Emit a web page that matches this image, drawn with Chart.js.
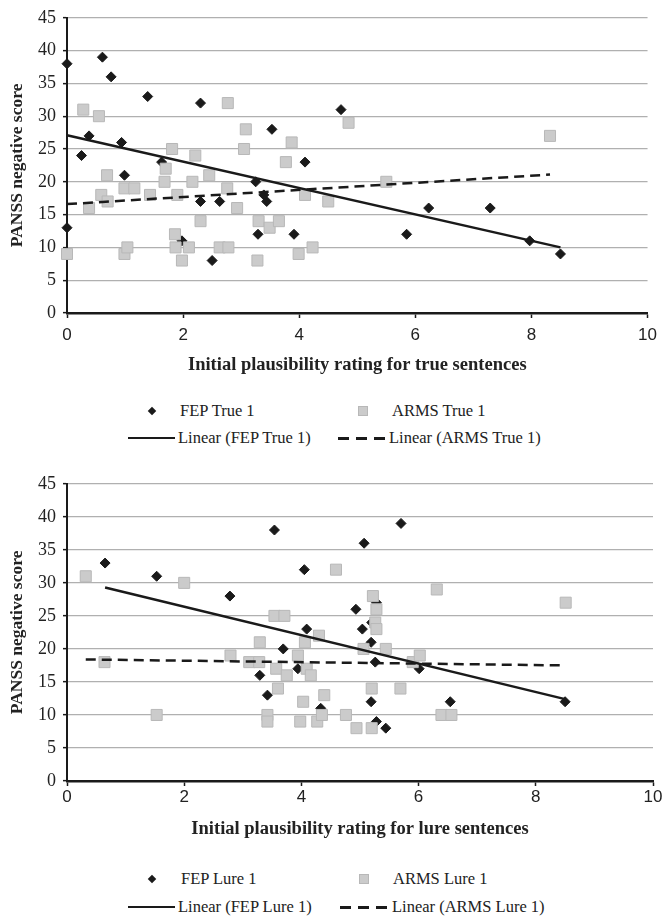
<!DOCTYPE html>
<html>
<head>
<meta charset="utf-8">
<script src="https://cdn.jsdelivr.net/npm/chart.js@4.4.1/dist/chart.umd.min.js"></script>
<style>
  body { margin: 0; background: #fff; }
  #page { position: relative; width: 664px; height: 917px; overflow: hidden; }
  .box { position: absolute; left: 0; width: 664px; }
  .leg { position: absolute; font: 16.5px "Liberation Serif", "Times New Roman", serif; color: #222; line-height: 20px; white-space: nowrap; }
  .dia { position: absolute; width: 6px; height: 6px; background: #1a1a1a; transform: rotate(45deg); }
  .sq { position: absolute; width: 8px; height: 8px; background: #cbcbcb; border: 1px solid #b8b8b8; }
  .ln { position: absolute; width: 47px; height: 2px; background: #1a1a1a; }
  .dash { position: absolute; width: 47px; height: 3px; background: repeating-linear-gradient(to right, #1a1a1a 0 11px, transparent 11px 18px); }
</style>
</head>
<body>
<div id="page">
  <div class="box" style="top:0;height:385px"><canvas id="trueChart"></canvas></div>
  <div class="box" style="top:466px;height:380px"><canvas id="lureChart"></canvas></div>

  <div class="dia" style="left:149px;top:408px"></div>
  <div class="leg" style="left:180px;top:401px">FEP True 1</div>
  <div class="sq" style="left:358px;top:406px"></div>
  <div class="leg" style="left:392px;top:401px">ARMS True 1</div>
  <div class="ln" style="left:128px;top:437px"></div>
  <div class="leg" style="left:178px;top:428px">Linear (FEP True 1)</div>
  <div class="dash" style="left:338px;top:437px"></div>
  <div class="leg" style="left:389px;top:428px">Linear (ARMS True 1)</div>

  <div class="dia" style="left:149px;top:876px"></div>
  <div class="leg" style="left:181px;top:869px">FEP Lure 1</div>
  <div class="sq" style="left:359px;top:874px"></div>
  <div class="leg" style="left:393px;top:869px">ARMS Lure 1</div>
  <div class="ln" style="left:128px;top:906px"></div>
  <div class="leg" style="left:178px;top:897px">Linear (FEP Lure 1)</div>
  <div class="dash" style="left:340px;top:906px"></div>
  <div class="leg" style="left:392px;top:897px">Linear (ARMS Lure 1)</div>
</div>
<script>
// shared axis ticks
const xTicks = [0, 2, 4, 6, 8, 10];
const yTicks = [0, 5, 10, 15, 20, 25, 30, 35, 40, 45];

// true sentences
const fepTrueX = [0, 0.25, 0.38, 0.61, 0.76, 0.94, 0.99, 1.39, 1.63, 0, 1.98, 2.3, 2.3, 2.5, 2.63, 3.25, 3.39, 3.44, 3.29, 3.53, 3.91, 4.1, 4.72, 5.85, 6.23, 7.29, 7.97, 8.5];
const fepTrueY = [38, 24, 27, 39, 36, 26, 21, 33, 23, 13, 11, 32, 17, 8, 17, 20, 18, 17, 12, 28, 12, 23, 31, 12, 16, 16, 11, 9];
const armsTrueX = [0, 0.28, 0.38, 0.55, 0.59, 0.69, 0.7, 0.99, 0.99, 1.04, 1.16, 1.43, 1.68, 1.7, 1.81, 1.86, 1.9, 1.87, 1.98, 2.1, 2.16, 2.21, 2.3, 2.45, 2.63, 2.77, 2.76, 2.78, 2.93, 3.05, 3.08, 3.3, 3.49, 3.65, 3.28, 3.77, 3.87, 4.1, 3.99, 4.23, 4.5, 4.85, 5.5, 8.32];
const armsTrueY = [9, 31, 16, 30, 18, 21, 17, 19, 9, 10, 19, 18, 20, 22, 25, 12, 18, 10, 8, 10, 20, 24, 14, 21, 10, 32, 19, 10, 16, 25, 28, 14, 13, 14, 8, 23, 26, 18, 9, 10, 17, 29, 20, 27];
const fepTrueTrendX = [0, 8.5];
const fepTrueTrendY = [27.1, 10.0];
const armsTrueTrendX = [0, 8.32];
const armsTrueTrendY = [16.6, 21.1];

// lure sentences
const fepLureX = [0.65, 1.53, 2.78, 3.54, 3.29, 3.42, 3.69, 3.94, 4.05, 4.09, 4.33, 4.93, 5.07, 5.04, 5.19, 5.2, 5.28, 5.26, 5.19, 5.28, 5.44, 5.7, 6.01, 6.54, 8.5];
const fepLureY = [33, 31, 28, 38, 16, 13, 20, 17, 32, 23, 11, 26, 36, 23, 21, 24, 27, 18, 12, 9, 8, 39, 17, 12, 12];
const armsLureX = [0.32, 0.64, 1.53, 2.0, 2.79, 3.11, 3.28, 3.29, 3.6, 3.57, 3.54, 3.71, 3.42, 3.42, 3.75, 3.94, 4.06, 4.09, 4.16, 4.3, 4.03, 3.98, 4.27, 4.35, 4.39, 4.59, 4.76, 4.94, 5.2, 5.2, 5.06, 5.22, 5.28, 5.26, 5.28, 5.44, 5.69, 5.9, 6.02, 6.31, 6.39, 6.56, 8.51];
const armsLureY = [31, 18, 10, 30, 19, 18, 18, 21, 14, 17, 25, 25, 10, 9, 16, 19, 21, 17, 16, 22, 12, 9, 9, 10, 13, 32, 10, 8, 8, 14, 20, 28, 26, 24, 23, 20, 14, 18, 19, 29, 10, 10, 27];
const fepLureTrendX = [0.65, 8.5];
const fepLureTrendY = [29.3, 12.4];
const armsLureTrendX = [0.32, 8.51];
const armsLureTrendY = [18.4, 17.5];

const serif = '"Liberation Serif", "Times New Roman", serif';
const sans = '"Liberation Sans", Arial, sans-serif';

function pts(xs, ys) {
    return xs.map((x, i) => ({x: x, y: ys[i]}));
}

function drawChart(canvasId, d, xTitle, plotBottom, tickPad, titlePad) {
    const canvas = document.getElementById(canvasId);
    const ctx = canvas.getContext('2d');
    return new Chart(ctx, {
        type: 'scatter',
        data: {
            datasets: [
                {
                    label: d.fepTrendLabel, type: 'line', data: pts(d.fepTrendX, d.fepTrendY),
                    borderColor: '#1a1a1a', borderWidth: 2.5, pointRadius: 0, fill: false, order: 0, clip: false
                },
                {
                    label: d.armsTrendLabel, type: 'line', data: pts(d.armsTrendX, d.armsTrendY),
                    borderColor: '#1a1a1a', borderWidth: 2.5, borderDash: [10, 6], pointRadius: 0, fill: false, order: 0, clip: false
                },
                {
                    label: d.armsLabel, data: pts(d.armsX, d.armsY),
                    pointStyle: 'rect', pointRadius: 7.8, backgroundColor: '#cbcbcb', borderColor: '#b8b8b8',
                    borderWidth: 1, order: 1, clip: false
                },
                {
                    label: d.fepLabel, data: pts(d.fepX, d.fepY),
                    pointStyle: 'rectRot', pointRadius: 5, backgroundColor: '#1a1a1a', borderColor: '#1a1a1a',
                    borderWidth: 1, order: 2, clip: false
                }
            ]
        },
        options: {
            responsive: true,
            maintainAspectRatio: false,
            animation: false,
            layout: {padding: {top: 15, right: 11, left: 0, bottom: 0}},
            plugins: {legend: {display: false}, tooltip: {enabled: false}},
            scales: {
                x: {
                    type: 'linear', min: 0, max: 10,
                    afterBuildTicks: s => { s.ticks = xTicks.map(v => ({value: v})); },
                    afterFit: s => { s.height = s.chart.height - plotBottom; },
                    ticks: {color: '#222', font: {family: sans, size: 17}, padding: tickPad},
                    grid: {drawOnChartArea: false, drawTicks: true, tickLength: 5, tickColor: '#1a1a1a', tickWidth: 1.5},
                    border: {color: '#1a1a1a', width: 2.5},
                    title: {display: true, text: xTitle, color: '#222',
                        font: {family: serif, size: 18.5, weight: 'bold'}, padding: titlePad}
                },
                y: {
                    type: 'linear', min: 0, max: 45,
                    afterBuildTicks: s => { s.ticks = yTicks.map(v => ({value: v})); },
                    afterFit: s => { s.width = 67; },
                    ticks: {color: '#222', font: {family: serif, size: 18}, padding: 7},
                    grid: {color: '#b0b0b0', lineWidth: 1.3, tickLength: 4, tickColor: '#1a1a1a', tickWidth: 1.5},
                    border: {color: '#1a1a1a', width: 2},
                    title: {display: true, text: 'PANSS negative score', color: '#222',
                        font: {family: serif, size: 17.5, weight: 'bold'}, padding: {top: 7, bottom: 0}}
                }
            }
        }
    });
}

drawChart('trueChart', {
    fepX: fepTrueX, fepY: fepTrueY, armsX: armsTrueX, armsY: armsTrueY,
    fepTrendX: fepTrueTrendX, fepTrendY: fepTrueTrendY, armsTrendX: armsTrueTrendX, armsTrendY: armsTrueTrendY,
    fepLabel: 'FEP True 1', armsLabel: 'ARMS True 1',
    fepTrendLabel: 'Linear (FEP True 1)', armsTrendLabel: 'Linear (ARMS True 1)'
}, 'Initial plausibility rating for true sentences', 313, 7, {top: 4, bottom: 9});

drawChart('lureChart', {
    fepX: fepLureX, fepY: fepLureY, armsX: armsLureX, armsY: armsLureY,
    fepTrendX: fepLureTrendX, fepTrendY: fepLureTrendY, armsTrendX: armsLureTrendX, armsTrendY: armsLureTrendY,
    fepLabel: 'FEP Lure 1', armsLabel: 'ARMS Lure 1',
    fepTrendLabel: 'Linear (FEP Lure 1)', armsTrendLabel: 'Linear (ARMS Lure 1)'
}, 'Initial plausibility rating for lure sentences', 315, 1, {top: 2, bottom: 6});
</script>
</body>
</html>
